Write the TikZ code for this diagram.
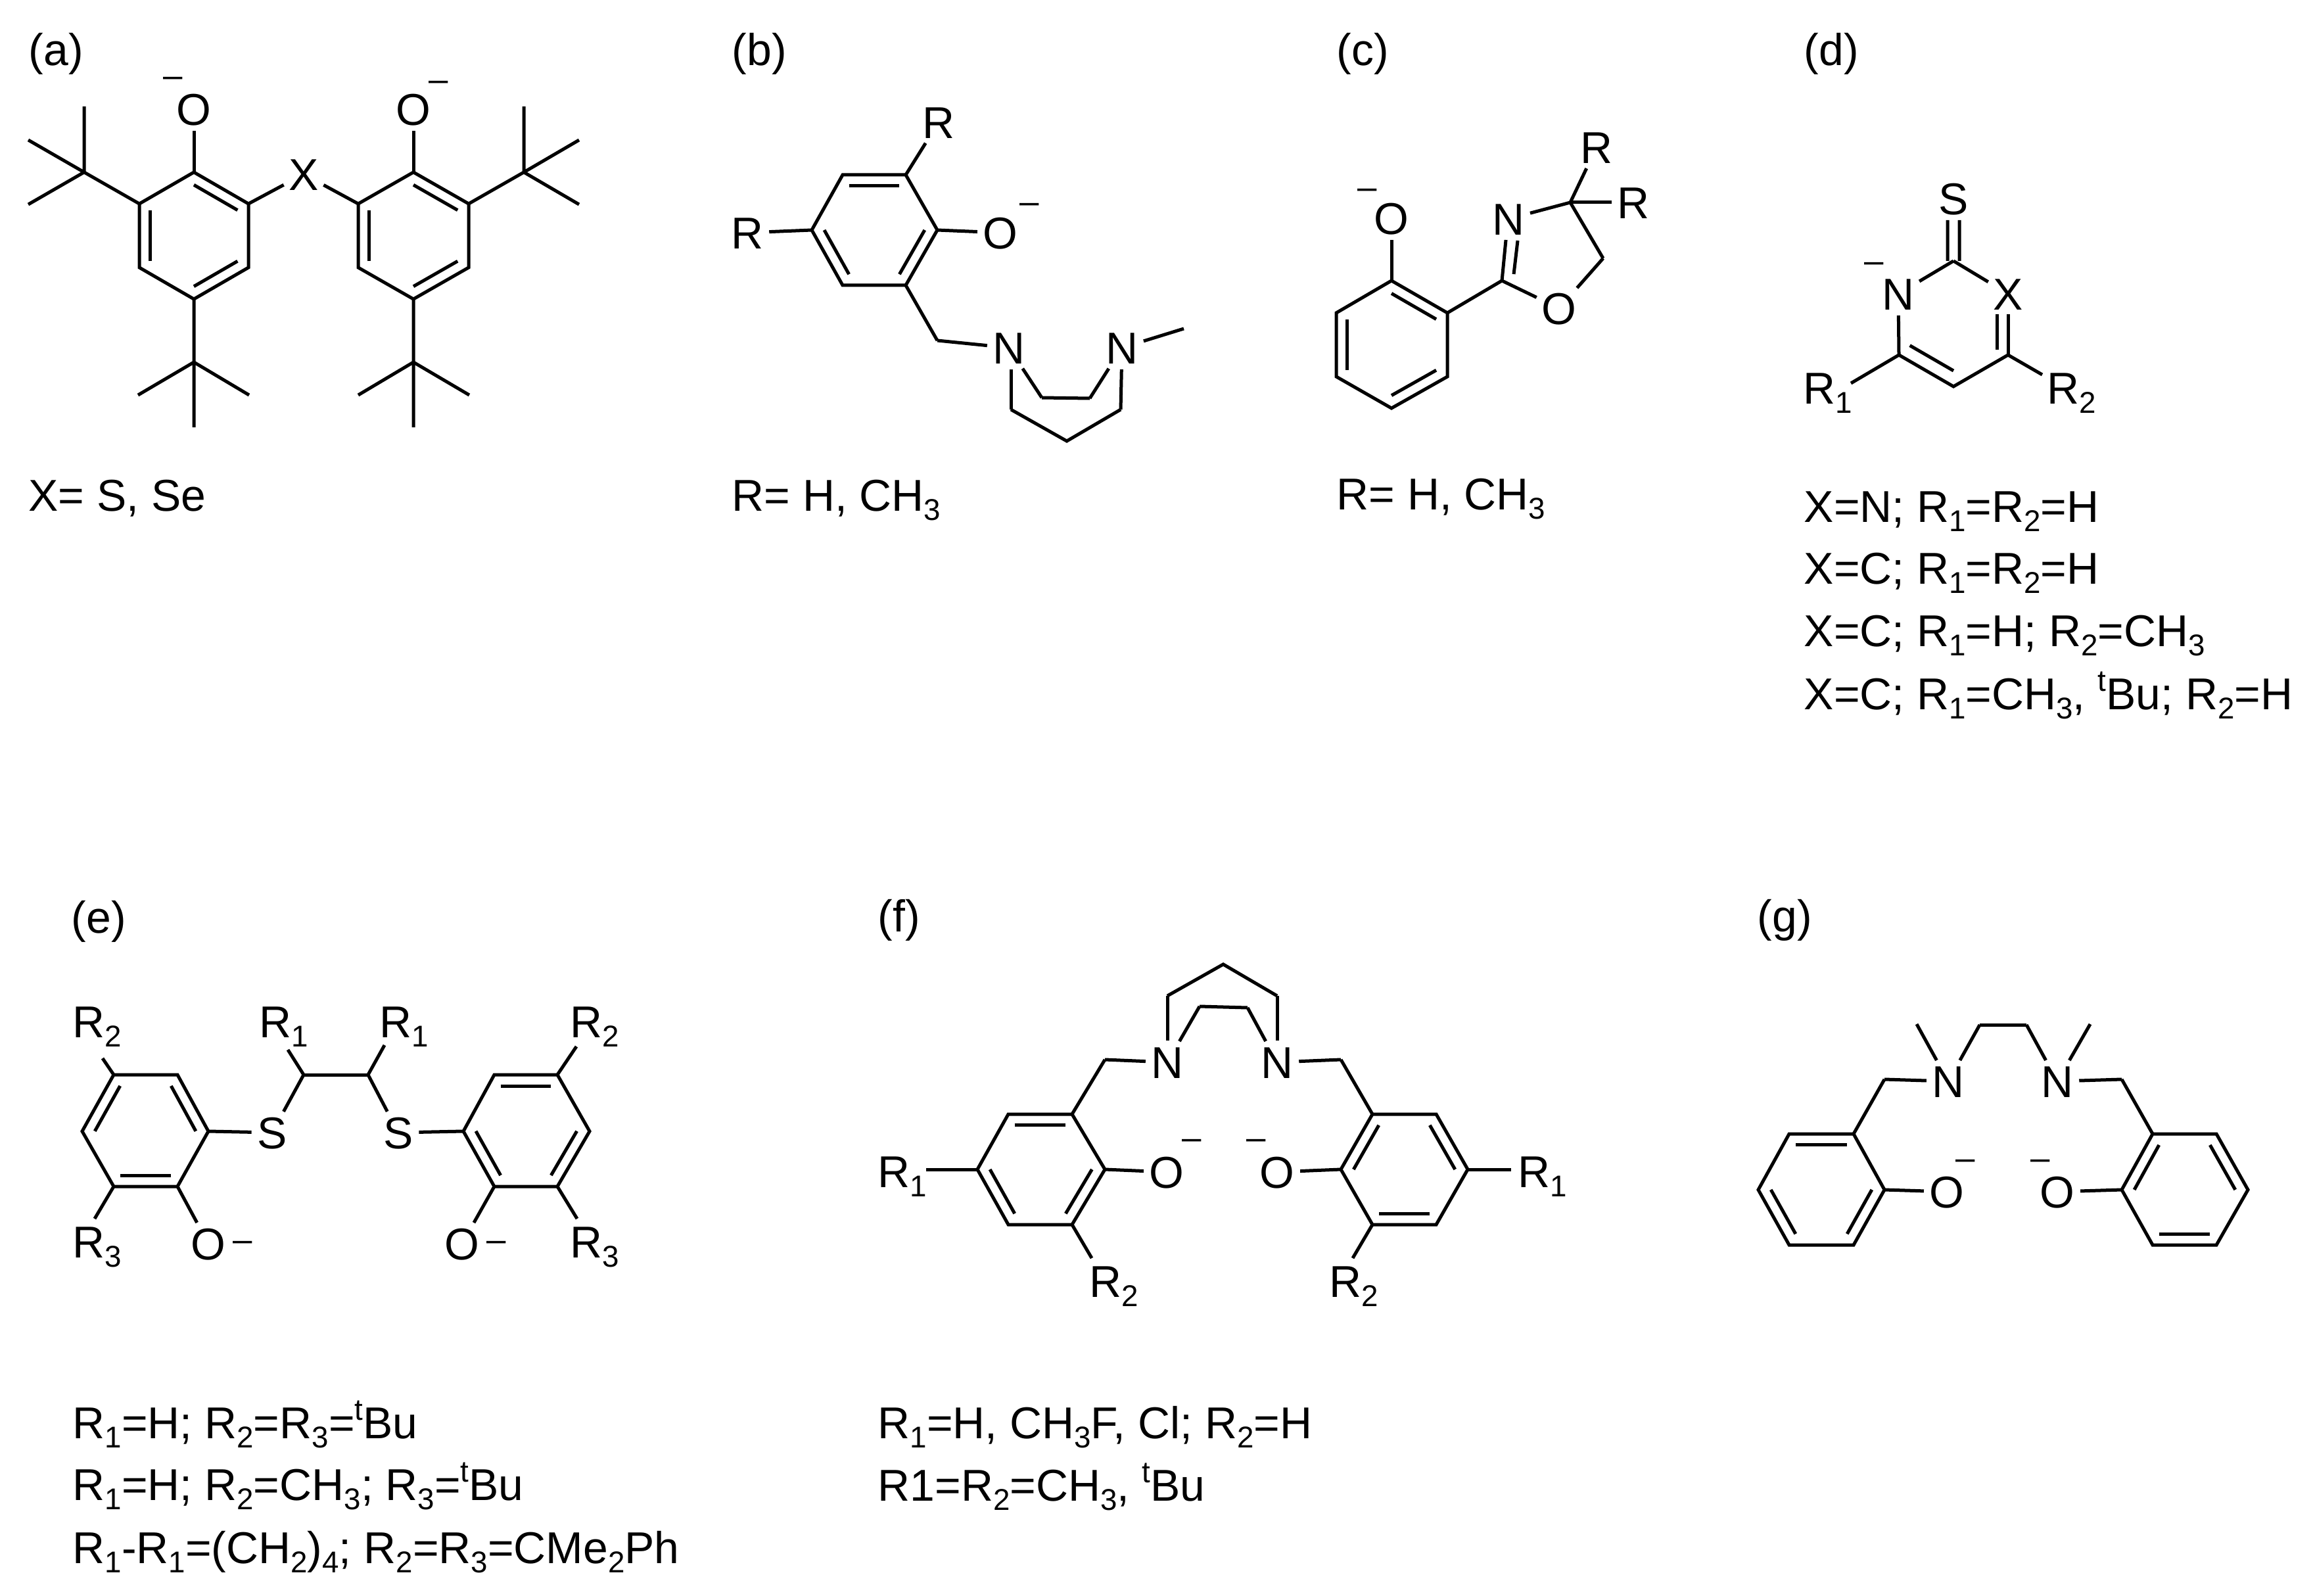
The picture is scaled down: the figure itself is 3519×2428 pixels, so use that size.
\documentclass[tikz,border=0pt]{standalone}
\usepackage{fontspec}
\setmainfont{Liberation Sans}
\usetikzlibrary{calc}
\newcommand\sbs[1]{\raisebox{-4.2pt}{\fontsize{13}{13}\selectfont #1}}
\newcommand\sps[1]{\raisebox{7.8pt}{\fontsize{13}{13}\selectfont #1}}
\newcommand\dbl[3]{\draw[bond] ($(#1)!0.2!(#3)$) -- ($(#2)!0.2!(#3)$);}
\newcommand\hexring[7]{%
  \coordinate (#11) at #2; \coordinate (#12) at #3; \coordinate (#13) at #4;
  \coordinate (#14) at #5; \coordinate (#15) at #6; \coordinate (#16) at #7;
  \coordinate (#1c) at ($(#11)!0.5!(#14)$);
  \draw[bond] (#11) -- (#12) -- (#13) -- (#14) -- (#15) -- (#16) -- cycle;}
\tikzset{
  bond/.style={line width=0.05cm,line cap=butt,line join=miter,black},
  tolbl/.style={bond,shorten >=0.08cm},
  atom/.style={inner sep=0pt,font=\fontsize{19.3}{23}\selectfont,text height=13.8pt,text depth=0pt,anchor=center},
  lbl/.style={inner sep=0pt,font=\fontsize{19.3}{23}\selectfont,anchor=base west},
  chg/.style={inner sep=0pt,font=\fontsize{15}{16}\selectfont,anchor=center,yshift=-0.08cm}
}
\begin{document}
\begin{tikzpicture}[x=0.01cm,y=-0.01cm]
\path[use as bounding box,fill=white] (0,0) rectangle (3519,2428);

% ---------- (a)
\node[lbl] (la) at (43,100) {(a)};
\node[lbl] (ta) at (43,777) {X= S, Se};
\hexring{A}{(295,262)}{(378,310)}{(378,407)}{(295,455)}{(212,407)}{(212,310)}
\hexring{B}{(629,262)}{(713,310)}{(713,407)}{(629,455)}{(545,407)}{(545,310)}
\dbl{A1}{A2}{Ac}\dbl{A3}{A4}{Ac}\dbl{A5}{A6}{Ac}
\dbl{B1}{B2}{Bc}\dbl{B3}{B4}{Bc}\dbl{B5}{B6}{Bc}
\node[atom] (aO1) at (295,166) {O};
\node[atom] (aO2) at (629,166) {O};
\node[atom] (aX) at (462,265) {X};
\node[chg] (am1) at (263,117) {–};
\node[chg] (am2) at (667,123) {–};
\draw[tolbl] (A1) -- (aO1);
\draw[tolbl] (B1) -- (aO2);
\draw[tolbl] (A2) -- (aX);
\draw[tolbl] (B6) -- (aX);
\coordinate (tb1) at (128,262);
\coordinate (t11) at (128,162); \coordinate (t12) at (43,213); \coordinate (t13) at (43,311);
\draw[bond] (A6) -- (tb1) (tb1) -- (t11) (tb1) -- (t12) (tb1) -- (t13);
\coordinate (tb2) at (797,262);
\coordinate (t21) at (797,162); \coordinate (t22) at (881,213); \coordinate (t23) at (881,311);
\draw[bond] (B2) -- (tb2) (tb2) -- (t21) (tb2) -- (t22) (tb2) -- (t23);
\coordinate (tb3) at (295,551);
\coordinate (t31) at (210,601); \coordinate (t32) at (379,601); \coordinate (t33) at (295,650);
\draw[bond] (A4) -- (tb3) (tb3) -- (t31) (tb3) -- (t32) (tb3) -- (t33);
\coordinate (tb4) at (629,551);
\coordinate (t41) at (545,601); \coordinate (t42) at (714,601); \coordinate (t43) at (629,650);
\draw[bond] (B4) -- (tb4) (tb4) -- (t41) (tb4) -- (t42) (tb4) -- (t43);

% ---------- (b)
\node[lbl] (lb) at (1113,100) {(b)};
\node[lbl] (tb) at (1113,777) {R= H, CH\sbs{3}};
\hexring{C}{(1378,266)}{(1426,350)}{(1378,434)}{(1282,434)}{(1235,350)}{(1282,266)}
\dbl{C6}{C1}{Cc}\dbl{C2}{C3}{Cc}\dbl{C4}{C5}{Cc}
\node[atom] (bR1) at (1428,186) {R};
\node[atom] (bR2) at (1137,354) {R};
\node[atom] (bO) at (1522,354) {O};
\node[chg] (bm) at (1566,309) {–};
\node[atom] (bN1) at (1535,529) {N};
\node[atom] (bN2) at (1707,529) {N};
\draw[tolbl] (C1) -- (bR1);
\draw[tolbl] (C5) -- (bR2);
\draw[tolbl] (C2) -- (bO);
\coordinate (bc1) at (1426,518);
\draw[bond] (C3) -- (bc1);
\draw[tolbl] (bc1) -- (bN1);
\coordinate (bc2) at (1538,623); \coordinate (bc3) at (1623,671); \coordinate (bc4) at (1705,623);
\coordinate (bc5) at (1585,605); \coordinate (bc6) at (1658,606); \coordinate (bme) at (1801,500);
\draw[tolbl] (bc2) -- (bc2 |- bN1.south);
\draw[bond] (bc2) -- (bc3) -- (bc4);
\draw[tolbl] (bc4) -- (bN2);
\draw[tolbl] (bc5) -- (bN1);
\draw[bond] (bc5) -- (bc6);
\draw[tolbl] (bc6) -- (bN2);
\draw[tolbl] (bme) -- (bN2);

% ---------- (c)
\node[lbl] (lc) at (2033,100) {(c)};
\node[lbl] (tc) at (2033,775) {R= H, CH\sbs{3}};
\hexring{D}{(2117,427)}{(2202,476)}{(2202,573)}{(2117,621)}{(2033,573)}{(2033,476)}
\dbl{D1}{D2}{Dc}\dbl{D3}{D4}{Dc}\dbl{D5}{D6}{Dc}
\node[atom] (cO1) at (2117,332) {O};
\node[chg] (cm) at (2080,287) {–};
\node[atom] (cN) at (2295,333) {N};
\node[atom] (cO2) at (2372,469) {O};
\node[atom] (cR1) at (2429,224) {R};
\node[atom] (cR2) at (2485,308) {R};
\coordinate (cc1) at (2285,427); \coordinate (cc2) at (2389,308); \coordinate (cc3) at (2439,393);
\draw[tolbl] (D1) -- (cO1);
\draw[bond] (D2) -- (cc1);
\draw[bond] (cc1) -- ([shift={(-4,32)}]cN.center);
\draw[bond] ([shift={(18,-10)}]cc1) -- ([shift={(14,33)}]cN.center);
\draw[tolbl] (cc2) -- (cN);
\draw[tolbl] (cc2) -- (cR1);
\draw[tolbl] (cc2) -- (cR2);
\draw[bond] (cc2) -- (cc3);
\draw[tolbl] (cc3) -- (cO2);
\draw[tolbl] (cc1) -- (cO2);

% ---------- (d)
\node[lbl] (ld) at (2744,100) {(d)};
\node[atom] (dS) at (2972,302) {S};
\node[atom] (dN) at (2888,447) {N};
\node[atom] (dX) at (3055,447) {X};
\node[chg] (dm) at (2851,399) {–};
\coordinate (dc1) at (2972,397); \coordinate (dc2) at (2889,540);
\coordinate (dc3) at (2972,588); \coordinate (dc4) at (3055,540);
\draw[bond] ([xshift=-0.09cm]dc1) -- ([shift={(-9,33)}]dS.center);
\draw[bond] ([xshift=0.09cm]dc1) -- ([shift={(9,33)}]dS.center);
\draw[tolbl] (dc1) -- (dN);
\draw[tolbl] (dc1) -- (dX);
\draw[tolbl] (dc2) -- (dN);
\draw[bond] (dc2) -- (dc3) -- (dc4);
\coordinate (dcc) at (2972,468);
\dbl{dc2}{dc3}{dcc}
\draw[bond] (dc4) -- ([shift={(0,31)}]dX.center);
\draw[bond] ([shift={(-17,-8)}]dc4) -- ([shift={(-17,31)}]dX.center);
\node[lbl] (dR1) at (2743,614) {R\sbs{1}};
\node[lbl] (dR2) at (3114,614) {R\sbs{2}};
\draw[bond] (dc2) -- ([shift={(73,-31)}]dR1.base west);
\draw[bond] (dc4) -- ([shift={(-7,-44)}]dR2.base west);
\node[lbl] (td1) at (2744,794) {X=N; R\sbs{1}=R\sbs{2}=H};
\node[lbl] (td2) at (2744,888) {X=C; R\sbs{1}=R\sbs{2}=H};
\node[lbl] (td3) at (2744,983) {X=C; R\sbs{1}=H; R\sbs{2}=CH\sbs{3}};
\node[lbl] (td4) at (2744,1079) {X=C; R\sbs{1}=CH\sbs{3}, \sps{t}Bu; R\sbs{2}=H};

% ---------- (e)
\node[lbl] (le) at (108,1419) {(e)};
\hexring{E}{(173,1635)}{(270,1635)}{(317,1721)}{(270,1805)}{(173,1805)}{(125,1721)}
\hexring{F}{(752,1635)}{(848,1635)}{(897,1721)}{(848,1805)}{(752,1805)}{(705,1721)}
\dbl{E6}{E1}{Ec}\dbl{E2}{E3}{Ec}\dbl{E4}{E5}{Ec}
\dbl{F1}{F2}{Fc}\dbl{F3}{F4}{Fc}\dbl{F5}{F6}{Fc}
\node[lbl] (eR2a) at (110,1578) {R\sbs{2}};
\node[lbl] (eR3a) at (110,1913) {R\sbs{3}};
\node[lbl] (eR1a) at (394,1578) {R\sbs{1}};
\node[lbl] (eR1b) at (577,1578) {R\sbs{1}};
\node[lbl] (eR2b) at (867,1578) {R\sbs{2}};
\node[lbl] (eR3b) at (867,1913) {R\sbs{3}};
\node[atom] (eO1) at (317,1892) {O};
\node[atom] (eO2) at (703,1892) {O};
\node[chg] (em1) at (369,1888) {–};
\node[chg] (em2) at (755,1888) {–};
\node[atom] (eS1) at (414,1723) {S};
\node[atom] (eS2) at (606,1723) {S};
\coordinate (ec1) at (462,1635); \coordinate (ec2) at (560,1635);
\draw[bond] (E1) -- ([shift={(46,32)}]eR2a.base west);
\draw[bond] (E5) -- ([shift={(34,-59)}]eR3a.base west);
\draw[tolbl] (E4) -- (eO1);
\draw[tolbl] (F5) -- (eO2);
\draw[tolbl] (E3) -- (eS1);
\draw[tolbl] (ec1) -- (eS1);
\draw[tolbl] (ec2) -- (eS2);
\draw[tolbl] (F6) -- (eS2);
\draw[bond] (ec1) -- (ec2);
\draw[bond] (ec1) -- ([shift={(44,19)}]eR1a.base west);
\draw[bond] (ec2) -- ([shift={(8,12)}]eR1b.base west);
\draw[bond] (F2) -- ([shift={(10,14)}]eR2b.base west);
\draw[bond] (F4) -- ([shift={(11,-59)}]eR3b.base west);
\node[lbl] (te1) at (110,2188) {R\sbs{1}=H; R\sbs{2}=R\sbs{3}=\sps{t}Bu};
\node[lbl] (te2) at (110,2282) {R\sbs{1}=H; R\sbs{2}=CH\sbs{3}; R\sbs{3}=\sps{t}Bu};
\node[lbl] (te3) at (110,2378) {R\sbs{1}-R\sbs{1}=(CH\sbs{2})\sbs{4}; R\sbs{2}=R\sbs{3}=CMe\sbs{2}Ph};

% ---------- (f)
\node[lbl] (lf) at (1335,1417) {(f)};
\hexring{G}{(1534,1695)}{(1631,1695)}{(1681,1779)}{(1631,1863)}{(1534,1863)}{(1487,1779)}
\hexring{H}{(2088,1695)}{(2185,1695)}{(2233,1779)}{(2185,1863)}{(2088,1863)}{(2040,1779)}
\dbl{G1}{G2}{Gc}\dbl{G3}{G4}{Gc}\dbl{G5}{G6}{Gc}
\dbl{H2}{H3}{Hc}\dbl{H4}{H5}{Hc}\dbl{H6}{H1}{Hc}
\node[atom] (fN1) at (1776,1616) {N};
\node[atom] (fN2) at (1943,1616) {N};
\node[atom] (fO1) at (1775,1783) {O};
\node[atom] (fO2) at (1943,1783) {O};
\node[chg] (fm1) at (1813,1733) {–};
\node[chg] (fm2) at (1911,1733) {–};
\coordinate (fc1) at (1681,1612); \coordinate (fc2) at (2040,1612);
\coordinate (fc3) at (1776,1515); \coordinate (fc4) at (1861,1467); \coordinate (fc5) at (1943,1515);
\coordinate (fc6) at (1825,1531); \coordinate (fc7) at (1898,1533);
\draw[bond] (G2) -- (fc1);
\draw[tolbl] (fc1) -- (fN1);
\draw[bond] (H1) -- (fc2);
\draw[tolbl] (fc2) -- (fN2);
\draw[tolbl] (fc3) -- (fN1);
\draw[bond] (fc3) -- (fc4) -- (fc5);
\draw[tolbl] (fc5) -- (fN2);
\draw[tolbl] (fc6) -- (fN1);
\draw[bond] (fc6) -- (fc7);
\draw[tolbl] (fc7) -- (fN2);
\draw[tolbl] (G3) -- (fO1);
\draw[tolbl] (H6) -- (fO2);
\node[lbl] (fR1a) at (1335,1806) {R\sbs{1}};
\node[lbl] (fR1b) at (2309,1806) {R\sbs{1}};
\node[lbl] (fR2a) at (1657,1973) {R\sbs{2}};
\node[lbl] (fR2b) at (2022,1973) {R\sbs{2}};
\draw[bond] (G6) -- ([shift={(74,-27)}]fR1a.base west);
\draw[bond] (H3) -- ([shift={(-10,-27)}]fR1b.base west);
\draw[bond] (G4) -- ([shift={(4,-59)}]fR2a.base west);
\draw[bond] (H5) -- ([shift={(36,-59)}]fR2b.base west);
\node[lbl] (tf1) at (1335,2188) {R\sbs{1}=H, CH\sbs{3}F, Cl; R\sbs{2}=H};
\node[lbl] (tf2) at (1335,2283) {R1=R\sbs{2}=CH\sbs{3}, \sps{t}Bu};

% ---------- (g)
\node[lbl] (lg) at (2673,1417) {(g)};
\hexring{I}{(2722,1725)}{(2820,1725)}{(2867,1810)}{(2820,1894)}{(2722,1894)}{(2675,1810)}
\hexring{J}{(3275,1725)}{(3372,1725)}{(3420,1810)}{(3372,1894)}{(3275,1894)}{(3228,1810)}
\dbl{I1}{I2}{Ic}\dbl{I3}{I4}{Ic}\dbl{I5}{I6}{Ic}
\dbl{J2}{J3}{Jc}\dbl{J4}{J5}{Jc}\dbl{J6}{J1}{Jc}
\node[atom] (gN1) at (2964,1645) {N};
\node[atom] (gN2) at (3130,1645) {N};
\node[atom] (gO1) at (2962,1813) {O};
\node[atom] (gO2) at (3130,1813) {O};
\node[chg] (gm1) at (2990,1764) {–};
\node[chg] (gm2) at (3104,1764) {–};
\coordinate (gc1) at (2867,1642); \coordinate (gc2) at (3228,1642);
\coordinate (gc3) at (3012,1559); \coordinate (gc4) at (3083,1559);
\coordinate (gm3) at (2916,1558); \coordinate (gm4) at (3180,1558);
\draw[bond] (I2) -- (gc1);
\draw[tolbl] (gc1) -- (gN1);
\draw[bond] (J1) -- (gc2);
\draw[tolbl] (gc2) -- (gN2);
\draw[tolbl] (gc3) -- (gN1);
\draw[bond] (gc3) -- (gc4);
\draw[tolbl] (gc4) -- (gN2);
\draw[tolbl] (gm3) -- (gN1);
\draw[tolbl] (gm4) -- (gN2);
\draw[tolbl] (I3) -- (gO1);
\draw[tolbl] (J6) -- (gO2);
\end{tikzpicture}
\end{document}
